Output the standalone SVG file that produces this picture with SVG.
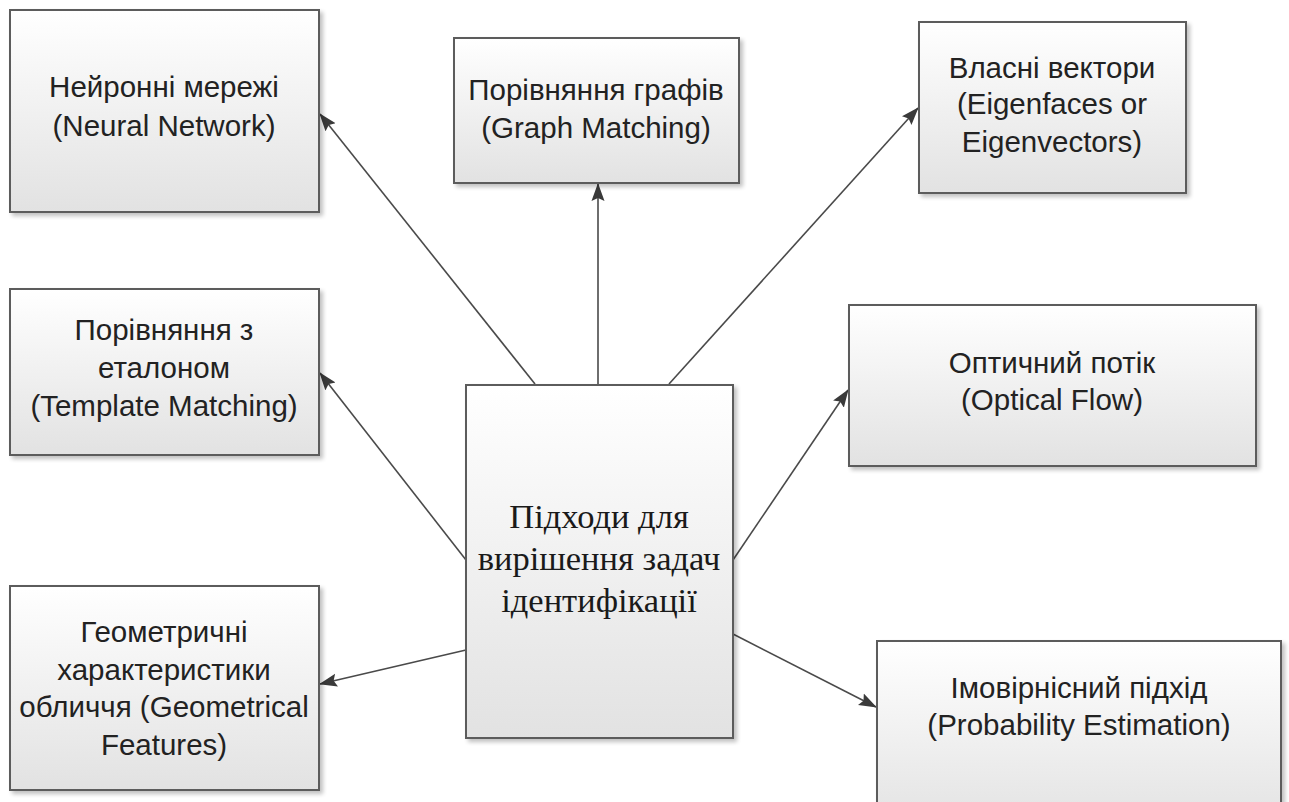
<svg xmlns="http://www.w3.org/2000/svg" width="1289" height="802" viewBox="0 0 1289 802">
  <defs>
    <linearGradient id="boxFill" x1="0" y1="0" x2="0" y2="1">
      <stop offset="0" stop-color="#ffffff"/>
      <stop offset="1" stop-color="#e2e2e2"/>
    </linearGradient>
    <filter id="shadow" x="-10%" y="-10%" width="125%" height="125%">
      <feGaussianBlur in="SourceAlpha" stdDeviation="2"/>
      <feOffset dx="3" dy="3" result="b"/>
      <feComponentTransfer><feFuncA type="linear" slope="0.25"/></feComponentTransfer>
      <feMerge><feMergeNode/><feMergeNode in="SourceGraphic"/></feMerge>
    </filter>
    <marker id="arrow" markerWidth="18" markerHeight="14" refX="17" refY="7" orient="auto" markerUnits="userSpaceOnUse">
      <path d="M0,0.5 L18,7 L0,13.5 L3,7 Z" fill="#3a3a3a"/>
    </marker>
    <style>
      .box { fill: url(#boxFill); stroke: #5c5c5c; stroke-width: 2; filter: url(#shadow); }
      .lbl { font-family: "Liberation Sans", Arial, sans-serif; font-size: 29.5px; fill: #222222; text-anchor: middle; }
      .main { font-family: "Liberation Serif", "Times New Roman", serif; font-size: 34.5px; fill: #1a1a1a; text-anchor: middle; }
      .edge { stroke: #4a4a4a; stroke-width: 1.6; fill: none; marker-end: url(#arrow); }
    </style>
  </defs>

  <rect width="1289" height="802" fill="#ffffff"/>

  <!-- connectors from the central node to each approach -->
  <g id="connectors">
    <line class="edge" x1="535" y1="384" x2="320" y2="114"/>
    <line class="edge" x1="598" y1="384" x2="598" y2="184"/>
    <line class="edge" x1="669" y1="384" x2="918" y2="108"/>
    <line class="edge" x1="466" y1="560" x2="320" y2="373"/>
    <line class="edge" x1="733" y1="560" x2="848" y2="390"/>
    <line class="edge" x1="466" y1="650" x2="320" y2="684"/>
    <line class="edge" x1="733" y1="634" x2="876" y2="707"/>
  </g>

  <g id="neural-network">
    <rect class="box" x="10" y="10" width="309" height="202"/>
    <text class="lbl"><tspan x="164" y="97">Нейронні мережі</tspan><tspan x="164" y="136">(Neural Network)</tspan></text>
  </g>

  <g id="graph-matching">
    <rect class="box" x="454" y="38" width="285" height="145"/>
    <text class="lbl"><tspan x="596" y="100">Порівняння графів</tspan><tspan x="596" y="138">(Graph Matching)</tspan></text>
  </g>

  <g id="eigenfaces">
    <rect class="box" x="919" y="22" width="267" height="171"/>
    <text class="lbl"><tspan x="1052" y="78">Власні вектори</tspan><tspan x="1052" y="114">(Eigenfaces or</tspan><tspan x="1052" y="152">Eigenvectors)</tspan></text>
  </g>

  <g id="template-matching">
    <rect class="box" x="10" y="289" width="309" height="166"/>
    <text class="lbl"><tspan x="164" y="340">Порівняння з</tspan><tspan x="164" y="378">еталоном</tspan><tspan x="164" y="416">(Template Matching)</tspan></text>
  </g>

  <g id="optical-flow">
    <rect class="box" x="849" y="305" width="407" height="161"/>
    <text class="lbl"><tspan x="1052" y="373">Оптичний потік</tspan><tspan x="1052" y="410">(Optical Flow)</tspan></text>
  </g>

  <g id="approaches">
    <rect class="box" x="466" y="385" width="267" height="353"/>
    <text class="main"><tspan x="599" y="528">Підходи для</tspan><tspan x="599" y="570">вирішення задач</tspan><tspan x="599" y="612">ідентифікації</tspan></text>
  </g>

  <g id="geometrical-features">
    <rect class="box" x="10" y="586" width="309" height="204"/>
    <text class="lbl"><tspan x="164" y="642">Геометричні</tspan><tspan x="164" y="680">характеристики</tspan><tspan x="164" y="717">обличчя (Geometrical</tspan><tspan x="164" y="755">Features)</tspan></text>
  </g>

  <g id="probability-estimation">
    <rect class="box" x="877" y="641" width="404" height="190"/>
    <text class="lbl"><tspan x="1079" y="698">Імовірнісний підхід</tspan><tspan x="1079" y="735">(Probability Estimation)</tspan></text>
  </g>
</svg>
